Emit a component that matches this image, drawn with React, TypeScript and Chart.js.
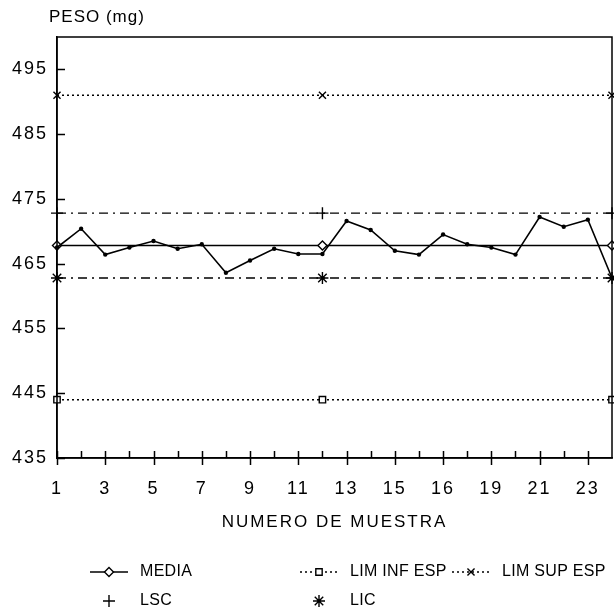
import React, { useEffect, useRef } from 'react';
import { Chart, registerables } from 'chart.js';
import { drawPoint } from 'chart.js/helpers';

Chart.register(...registerables);

// ---- data ----
const samples = [1, 2, 3, 4, 5, 6, 7, 8, 9, 10, 11, 12, 13, 14, 15, 16, 17, 18, 19, 20, 21, 22, 23, 24];
const sampleValues = [467.5, 470.4, 466.4, 467.5, 468.5, 467.3, 468.0, 463.6, 465.5, 467.3, 466.5, 466.5, 471.6, 470.2, 467.0, 466.4, 469.5, 468.0, 467.5, 466.4, 472.2, 470.7, 471.8, 462.8];
const limitPositions = [1, 12, 24];
const mediaValue = 467.8;
const lscValue = 472.8;
const licValue = 462.8;
const limInfValue = 444;
const limSupValue = 491;
const yTickValues = [435, 445, 455, 465, 475, 485, 495];
const xTickValues = [1, 3, 5, 7, 9, 11, 13, 15, 17, 19, 21, 23];
const xTickLabels = ['1', '3', '5', '7', '9', '11', '13', '15', '16', '19', '21', '23'];
const yTitle = 'PESO (mg)';
const xTitle = 'NUMERO DE MUESTRA';
const seriesNames = ['MEDIA', 'LIM INF ESP', 'LIM SUP ESP', 'LSC', 'LIC'];

const FONT = "'Liberation Sans', Arial, sans-serif";

function limitDataset(label: string, value: number, dash: number[], pointStyle: any, radius: number) {
  return {
    label,
    data: limitPositions.map((x) => ({ x, y: value })),
    borderColor: '#000',
    borderWidth: 1.4,
    borderDash: dash,
    pointStyle,
    pointRadius: radius,
    pointBackgroundColor: '#fff',
    pointBorderColor: '#000',
    pointBorderWidth: 1.4,
    fill: false,
    tension: 0,
    clip: false as any,
  };
}

const decorPlugin = {
  id: 'decor',
  beforeDraw(chart: any) {
    const ctx = chart.ctx;
    ctx.save();
    ctx.fillStyle = '#fff';
    ctx.fillRect(0, 0, chart.width, chart.height);
    ctx.restore();
    ctx.letterSpacing = '2px';
  },
  afterDraw(chart: any) {
    const ctx = chart.ctx;
    const { left, right, top, bottom } = chart.chartArea;
    const xs = chart.scales.x;
    const ys = chart.scales.y;
    ctx.save();
    ctx.strokeStyle = '#000';
    ctx.lineWidth = 1.5;
    ctx.strokeRect(left, top, right - left, bottom - top);
    ctx.beginPath();
    for (const v of yTickValues) {
      const py = Math.round(ys.getPixelForValue(v)) + 0.5;
      ctx.moveTo(left, py);
      ctx.lineTo(left + 8, py);
    }
    for (const s of samples) {
      if (s === samples[samples.length - 1]) continue;
      const px = Math.round(xs.getPixelForValue(s)) + 0.5;
      const major = xTickValues.includes(s);
      ctx.moveTo(px, bottom - 7);
      ctx.lineTo(px, major ? bottom + 7 : bottom);
    }
    ctx.stroke();

    // y title
    ctx.letterSpacing = '1px';
    ctx.fillStyle = '#000';
    ctx.font = `17px ${FONT}`;
    ctx.textAlign = 'left';
    ctx.textBaseline = 'middle';
    ctx.fillText(yTitle, 49, 17);

    // legend
    ctx.letterSpacing = '0.3px';
    const slots = [
      { x: 90, y: 572, line: true },
      { x: 300, y: 572, line: true },
      { x: 452, y: 572, line: true },
      { x: 90, y: 601, line: false },
      { x: 300, y: 601, line: false },
    ];
    const dsIndex = [1, 2, 3, 4, 5];
    slots.forEach((slot, i) => {
      const ds = chart.data.datasets[dsIndex[i]];
      const w = 38;
      ctx.save();
      ctx.strokeStyle = '#000';
      ctx.lineWidth = 1.4;
      if (slot.line) {
        ctx.setLineDash(ds.borderDash || []);
        ctx.beginPath();
        ctx.moveTo(slot.x, slot.y);
        ctx.lineTo(slot.x + w, slot.y);
        ctx.stroke();
      }
      ctx.setLineDash([]);
      ctx.fillStyle = '#fff';
      drawPoint(ctx, { pointStyle: ds.pointStyle, radius: ds.pointRadius, borderWidth: 1.4, rotation: 0 } as any, slot.x + w / 2, slot.y);
      ctx.restore();
      ctx.fillStyle = '#000';
      ctx.font = `16px ${FONT}`;
      ctx.textAlign = 'left';
      ctx.textBaseline = 'middle';
      ctx.fillText(seriesNames[i], slot.x + w + 12, slot.y);
    });
    ctx.restore();
    ctx.letterSpacing = '0px';
  },
};

export default function App() {
  const ref = useRef<HTMLCanvasElement>(null);
  useEffect(() => {
    if (!ref.current) return;
    Chart.defaults.font.family = FONT;
    Chart.defaults.color = '#000';
    const chart = new Chart(ref.current, {
      type: 'line',
      data: {
        datasets: [
          {
            label: 'PESO',
            data: samples.map((s, i) => ({ x: s, y: sampleValues[i] })),
            borderColor: '#000',
            borderWidth: 1.6,
            pointRadius: 2.2,
            pointBackgroundColor: '#000',
            pointBorderColor: '#000',
            pointBorderWidth: 0,
            tension: 0,
            fill: false,
            clip: false as any,
          },
          limitDataset(seriesNames[0], mediaValue, [], 'rectRot', 4.5),
          limitDataset(seriesNames[1], limInfValue, [2, 3], 'rect', 4.5),
          limitDataset(seriesNames[2], limSupValue, [2, 3], 'crossRot', 5),
          limitDataset(seriesNames[3], lscValue, [9, 5, 2, 5], 'cross', 6),
          limitDataset(seriesNames[4], licValue, [9, 5, 2, 5], 'star', 6),
        ] as any,
      },
      options: {
        animation: false,
        responsive: false,
        layout: { autoPadding: false, padding: { top: 37, right: 2, left: 0, bottom: 0 } },
        plugins: { legend: { display: false }, tooltip: { enabled: false }, title: { display: false } },
        scales: {
          x: {
            type: 'linear',
            min: samples[0],
            max: samples[samples.length - 1],
            grid: { display: false, drawTicks: false },
            border: { display: true, color: '#000', width: 1.5 },
            afterBuildTicks: (scale: any) => {
              scale.ticks = xTickValues.map((v) => ({ value: v }));
            },
            afterFit: (scale: any) => {
              scale.height = 153;
              scale.paddingRight = 0;
              scale.paddingLeft = 0;
            },
            ticks: {
              autoSkip: false,
              maxRotation: 0,
              padding: 20,
              font: { size: 18, family: FONT },
              color: '#000',
              callback: (_v: any, i: number) => xTickLabels[i],
            },
            title: {
              display: true,
              text: xTitle,
              font: { size: 17, family: FONT },
              color: '#000',
              padding: { top: 0, bottom: 78 },
            },
          },
          y: {
            type: 'linear',
            min: 435,
            max: 500,
            grid: { display: false, drawTicks: false },
            border: { display: true, color: '#000', width: 1.5 },
            afterBuildTicks: (scale: any) => {
              scale.ticks = yTickValues.map((v) => ({ value: v }));
            },
            afterFit: (scale: any) => {
              scale.width = 57;
              scale.paddingTop = 0;
              scale.paddingBottom = 0;
            },
            ticks: {
              padding: 9,
              font: { size: 18, family: FONT },
              color: '#000',
            },
          },
        },
      } as any,
      plugins: [decorPlugin],
    });
    return () => chart.destroy();
  }, []);
  return (
    <div style={{ position: 'fixed', left: 0, top: 0, width: 614, height: 611, background: '#fff' }}>
      <canvas ref={ref} width={614} height={611} />
    </div>
  );
}
